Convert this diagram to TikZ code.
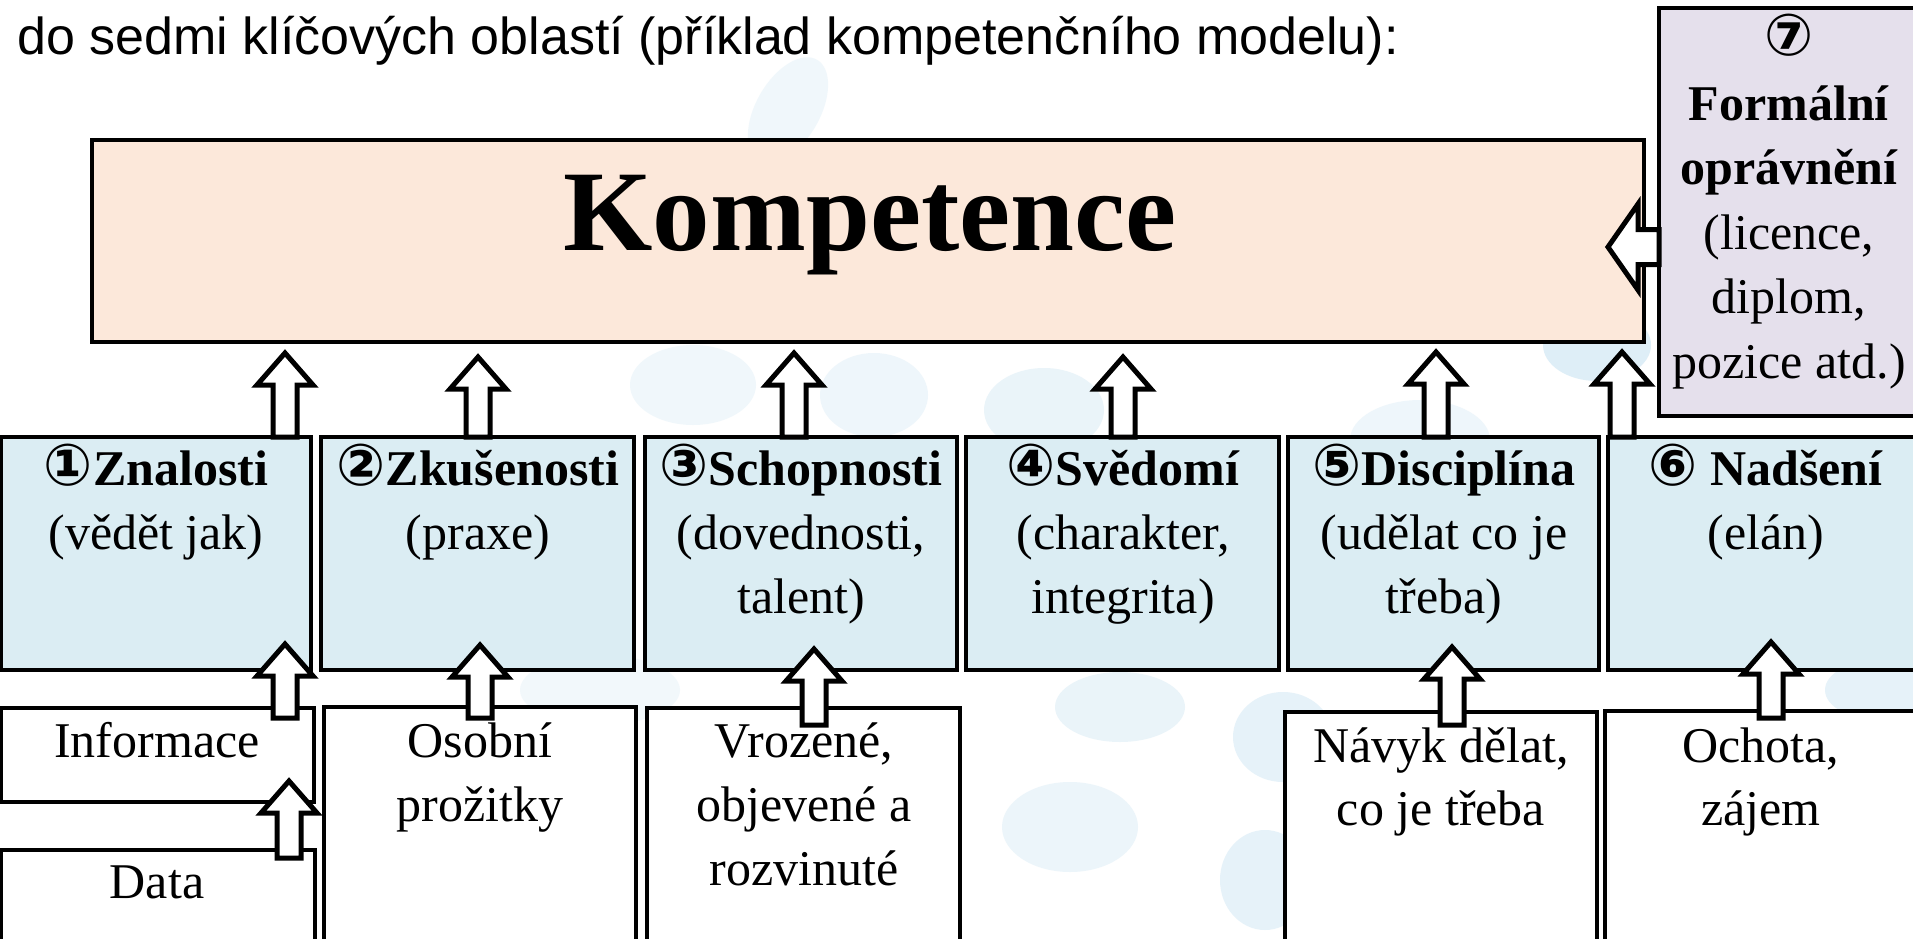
\documentclass[tikz,border=0pt]{standalone}
\usepackage{fontspec}
\setmainfont{Liberation Serif}
\newfontfamily\sansttl{Liberation Sans}
\newfontfamily\circfont{DejaVu Sans}
\usetikzlibrary{calc}
\definecolor{peach}{RGB}{252,232,218}
\definecolor{boxblue}{RGB}{219,237,243}
\definecolor{lav}{RGB}{229,224,236}
\definecolor{blobc}{RGB}{214,234,245}
\newcommand{\ml}[1]{\begin{tabular}[t]{@{}c@{}}#1\end{tabular}}
\newcommand{\cd}[1]{\smash{\circfont\fontsize{58}{64}\selectfont #1}}
\newcommand{\blkup}[5]{%
  \path (#1,0 |- #2) ++(0pt,#3) coordinate (as) (#1,0 |- #4) ++(0pt,#5) coordinate (ae);
  \draw[barrowup] (as) to (ae);}
\begin{document}
\begin{tikzpicture}[x=1pt,y=-1pt,
  box/.style={draw=black, line width=3.5pt, inner sep=0pt, outer sep=0pt, anchor=north west},
  bluebox/.style={box, fill=boxblue},
  whitebox/.style={box, fill=white},
  txt/.style={inner sep=0pt, anchor=base, font=\fontsize{50}{64}\selectfont},
  blob/.style={fill=blobc, draw=none},
  barrowup/.style={draw=black, line width=5pt, fill=white, line join=miter, miter limit=10,
    to path={let \p1=(\tikztostart), \p2=(\tikztotarget) in
      (\x1-12pt,\y1) -- (\x1-12pt,\y2-32pt) -- (\x1-28pt,\y2-32pt) -- (\x1,\y2)
      -- (\x1+28pt,\y2-32pt) -- (\x1+12pt,\y2-32pt) -- (\x1+12pt,\y1) -- cycle}},
  barrowleft/.style={draw=black, line width=5pt, fill=white, line join=miter, miter limit=10,
    to path={let \p1=(\tikztostart), \p2=(\tikztotarget) in
      (\x1,\y1+17.5pt) -- (\x2+30pt,\y1+17.5pt) -- (\x2+30pt,\y1+43pt) -- (\x2,\y1)
      -- (\x2+30pt,\y1-43pt) -- (\x2+30pt,\y1-17.5pt) -- (\x1,\y1-17.5pt) -- cycle}}
]
\useasboundingbox (0,0) rectangle (1913,939);
\clip (0,0) rectangle (1913,939);
\fill[white] (0,0) rectangle (1913,939);

% faint background bubbles
\fill[blob, opacity=0.35, rotate around={60:(788,110)}] (788,110) ellipse (58pt and 32pt);
\fill[blob, opacity=0.35] (693,385) ellipse (63pt and 40pt);
\fill[blob, opacity=0.4] (874,395) ellipse (54pt and 42pt);
\fill[blob, opacity=0.5] (1044,410) ellipse (60pt and 42pt);
\fill[blob, opacity=0.4] (1420,440) ellipse (70pt and 40pt);
\fill[blob, opacity=0.8] (1597,345) ellipse (54pt and 36pt);
\fill[blob, opacity=0.5] (1120,707) ellipse (65pt and 35pt);
\fill[blob, opacity=0.45] (1070,827) ellipse (68pt and 45pt);
\fill[blob, opacity=0.6] (1283,737) ellipse (50pt and 45pt);
\fill[blob, opacity=0.6] (1265,880) ellipse (45pt and 50pt);
\fill[blob, opacity=0.3] (600,690) ellipse (80pt and 35pt);
\fill[blob, opacity=0.6] (1880,690) ellipse (55pt and 30pt);

% title
\node[inner sep=0pt, anchor=base west, font=\sansttl\fontsize{52}{60}\selectfont] (title) at (17,55)
  {do sedmi klíčových oblastí (příklad kompetenčního modelu):};

% main boxes
\node[box, fill=peach, minimum width=1552pt, minimum height=202pt] (komp) at (92,140) {};
\node[inner sep=0pt, anchor=base, font=\bfseries\fontsize{115}{115}\selectfont] (kt) at (870,250) {Kompetence};

\node[box, fill=lav, minimum width=262pt, minimum height=408pt] (b7) at (1659,8) {};
\node[txt, font=\fontsize{50}{64.5}\selectfont] (t7) at (1789,56)
  {\ml{\textbf{\cd{⑦}}\\\textbf{Formální}\\\textbf{oprávnění}\\(licence,\\diplom,\\pozice atd.)}};

% blue row
\node[bluebox, minimum width=310pt, minimum height=233pt] (b1) at (1,437) {};
\node[bluebox, minimum width=313pt, minimum height=233pt] (b2) at (321,437) {};
\node[bluebox, minimum width=312pt, minimum height=233pt] (b3) at (645,437) {};
\node[bluebox, minimum width=313pt, minimum height=233pt] (b4) at (966,437) {};
\node[bluebox, minimum width=311pt, minimum height=233pt] (b5) at (1288,437) {};
\node[bluebox, minimum width=318pt, minimum height=233pt] (b6) at (1608,437) {};

\node[txt] (t1) at (156,485) {\ml{\textbf{\cd{①}Znalosti}\\(vědět jak)}};
\node[txt] (t2) at (478,485) {\ml{\textbf{\cd{②}Zkušenosti}\\(praxe)}};
\node[txt] (t3) at (801,485) {\ml{\textbf{\cd{③}Schopnosti}\\(dovednosti,\\talent)}};
\node[txt] (t4) at (1123,485) {\ml{\textbf{\cd{④}Svědomí}\\(charakter,\\integrita)}};
\node[txt] (t5) at (1444,485) {\ml{\textbf{\cd{⑤}Disciplína}\\(udělat co je\\třeba)}};
\node[txt] (t6) at (1766,485) {\ml{\textbf{\cd{⑥} Nadšení}\\(elán)}};

% white row
\node[whitebox, minimum width=313pt, minimum height=94pt] (w1) at (1,708) {};
\node[whitebox, minimum width=314pt, minimum height=100pt] (w0) at (1,850) {};
\node[whitebox, minimum width=312pt, minimum height=240pt] (w2) at (324,707) {};
\node[whitebox, minimum width=313pt, minimum height=240pt] (w3) at (647,708) {};
\node[whitebox, minimum width=312pt, minimum height=240pt] (w5) at (1285,712) {};
\node[whitebox, minimum width=318pt, minimum height=240pt] (w6) at (1605,711) {};

\node[txt] (wt1) at (157,757) {Informace};
\node[txt] (wt0) at (157,898) {Data};
\node[txt] (wt2) at (480,757) {\ml{Osobní\\prožitky}};
\node[txt] (wt3) at (804,757) {\ml{Vrozené,\\objevené a\\rozvinuté}};
\node[txt, font=\fontsize{50}{63}\selectfont] (wt5) at (1441,762) {\ml{Návyk dělat,\\co je třeba}};
\node[txt, font=\fontsize{50}{63}\selectfont] (wt6) at (1761,762) {\ml{Ochota,\\zájem}};

% arrows blue row -> Kompetence
\blkup{285}{b1.north}{0pt}{komp.south}{-11pt}
\blkup{478}{b2.north}{0pt}{komp.south}{-15pt}
\blkup{794}{b3.north}{0pt}{komp.south}{-11pt}
\blkup{1123}{b4.north}{0pt}{komp.south}{-15pt}
\blkup{1436}{b5.north}{0pt}{komp.south}{-10pt}
\blkup{1622}{b6.north}{0pt}{komp.south}{-10pt}

% arrows white row -> blue row
\blkup{285}{w1.north}{-10pt}{b1.south}{26pt}
\blkup{289}{w0.north}{-8pt}{w1.south}{21pt}
\blkup{480}{w2.north}{-11pt}{b2.south}{25pt}
\blkup{814}{w3.north}{-17pt}{b3.south}{21pt}
\blkup{1452}{w5.north}{-13pt}{b5.south}{23pt}
\blkup{1771}{w6.north}{-7pt}{b6.south}{28pt}

% arrow Formalni opravneni -> Kompetence
\path (b7.west |- 0,247) coordinate (ls) (komp.east |- 0,247) ++(-36pt,0pt) coordinate (le);
\draw[barrowleft] (ls) to (le);
\end{tikzpicture}
\end{document}
